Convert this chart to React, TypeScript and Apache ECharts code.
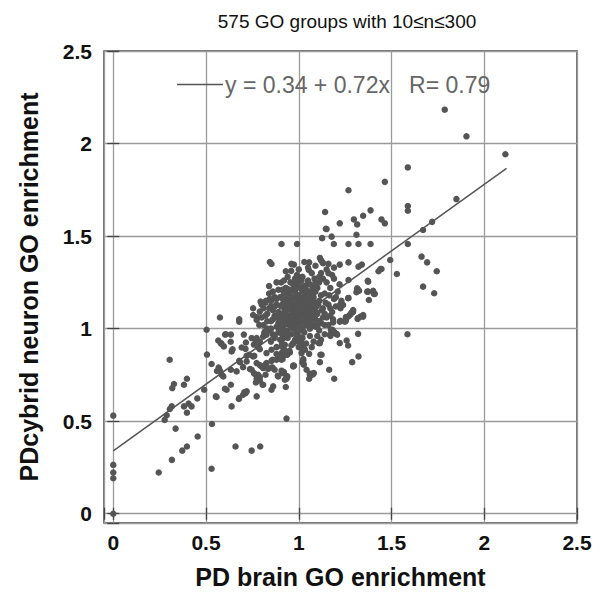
import React, { useEffect, useRef } from "react";
import * as echarts from "echarts";

const titleText = "575 GO groups with 10≤n≤300";
const xAxisName = "PD brain GO enrichment";
const yAxisName = "PDcybrid neuron GO enrichment";
const fitIntercept = 0.34;
const fitSlope = 0.72;
const fitR = 0.79;
const fitXRange = [0, 2.12];
const axisMin = -0.05;
const axisMax = 2.5;

// sparse GO groups [brain, cybrid]
const zeroPoints = [[0, 0.53], [0, 0.264], [0, 0.223], [0, 0.192], [0, 0.0]];

const lowPoints = [
  [0.245, 0.223], [0.304, 0.832], [0.316, 0.291], [0.318, 0.679], [0.327, 0.701], [0.381, 0.697],
  [0.397, 0.729], [0.315, 0.58], [0.305, 0.566], [0.288, 0.532], [0.277, 0.507], [0.336, 0.46],
  [0.381, 0.58], [0.406, 0.595], [0.422, 0.58], [0.397, 0.546], [0.453, 0.623], [0.455, 0.417],
  [0.372, 0.341], [0.397, 0.363], [0.49, 0.67], [0.503, 0.994], [0.505, 0.86], [0.53, 0.809],
  [0.553, 0.634], [0.532, 0.485], [0.53, 0.243], [0.559, 0.771], [0.566, 0.936], [0.575, 1.06],
];

const midPoints = [
  [0.679, 1.038], [0.579, 0.922], [0.603, 0.968], [0.634, 0.968], [0.633, 0.929], [0.704, 0.968],
  [0.715, 0.925], [0.692, 0.898], [0.713, 0.891], [0.638, 0.877], [0.679, 0.826], [0.634, 0.778],
  [0.665, 0.769], [0.568, 0.79], [0.575, 0.773], [0.593, 0.742], [0.634, 0.697], [0.611, 0.67],
  [0.638, 0.58], [0.679, 0.625], [0.7, 0.643], [0.713, 0.652], [0.773, 0.634], [0.719, 0.823],
  [0.733, 0.859], [0.76, 0.853], [0.746, 0.778], [0.758, 0.76], [0.773, 0.729], [0.79, 0.738],
  [0.805, 0.697], [0.821, 0.751], [0.79, 0.803], [0.758, 0.914], [0.769, 0.936], [0.783, 0.898],
  [0.746, 0.949], [0.659, 0.363], [0.746, 0.341], [0.792, 0.363], [0.934, 0.514], [0.826, 0.814],
  [0.859, 0.79], [0.87, 0.778], [0.859, 0.832], [0.88, 0.832], [0.907, 0.832], [0.92, 0.859],
  [0.887, 0.746], [0.913, 0.76], [0.934, 0.729], [0.93, 0.685], [0.97, 0.796], [1.024, 0.828],
  [1.027, 0.805], [1.056, 0.729], [1.074, 0.751], [1.06, 0.756], [1.056, 0.864], [1.108, 0.922],
  [0.826, 0.868], [0.853, 0.886], [0.814, 0.976], [0.754, 1.074], [0.773, 1.047], [0.787, 1.02],
  [0.607, 0.97], [0.584, 0.918], [0.596, 0.904], [0.643, 0.889], [0.773, 0.949], [0.79, 0.93],
  [0.781, 0.904], [0.79, 0.889], [0.817, 0.984], [0.808, 0.957], [0.826, 0.967], [0.754, 0.85],
  [0.719, 0.853], [0.773, 0.814], [0.8, 0.796], [0.683, 0.819], [0.7, 0.792], [0.584, 0.751],
  [0.737, 0.782], [0.763, 0.755], [0.823, 0.809], [0.853, 0.826], [0.88, 0.863], [0.889, 0.85],
  [0.907, 0.868], [0.913, 0.836], [0.938, 0.859], [0.952, 0.871], [0.808, 0.787], [0.835, 0.782],
  [0.853, 0.79], [0.781, 0.751], [0.79, 0.72], [0.769, 0.709], [0.808, 0.697], [0.889, 0.742],
  [0.925, 0.724], [0.938, 0.742], [0.907, 0.773], [0.97, 0.801], [0.853, 0.67], [0.862, 0.688],
  [0.602, 0.675], [0.557, 0.631], [0.677, 0.62], [0.706, 0.656], [0.719, 0.661], [1.015, 0.922],
  [1.024, 0.886], [1.024, 0.814], [1.042, 0.778],
];

const rightPoints = [
  [1.347, 1.065], [1.32, 1.057], [1.275, 1.074], [1.293, 1.092], [1.221, 1.038], [1.248, 1.038],
  [1.185, 1.033], [1.182, 0.994], [1.194, 0.976], [1.171, 0.961], [1.207, 0.967], [1.32, 0.972],
  [1.221, 0.922], [1.258, 0.936], [1.266, 0.909], [1.114, 0.922], [1.123, 0.859], [1.114, 0.819],
  [1.288, 0.819], [1.322, 0.85], [1.024, 0.836], [1.015, 0.868], [1.164, 0.778], [1.081, 0.76],
  [1.06, 0.751], [1.191, 0.729], [1.006, 0.93], [1.586, 0.97], [1.67, 1.227], [1.73, 1.191],
  [1.374, 1.254], [1.369, 1.2], [1.41, 1.188], [1.378, 1.155], [1.322, 1.209], [1.311, 1.197],
  [1.266, 1.164], [1.23, 1.137], [1.239, 1.128], [1.29, 1.089], [1.279, 1.078], [1.266, 1.065],
  [1.317, 1.053], [1.254, 1.042], [1.225, 1.042], [1.173, 0.994], [1.189, 0.984], [1.168, 0.967],
  [1.204, 0.972], [1.117, 0.859], [1.078, 0.756], [1.069, 0.756], [1.02, 0.819], [0.974, 0.8],
  [0.92, 0.765], [0.934, 0.742], [0.934, 0.859], [0.943, 0.871], [0.907, 0.904], [0.925, 0.913],
  [0.916, 0.949], [0.925, 0.958], [0.97, 0.922], [0.997, 0.93], [1.006, 0.954], [1.024, 0.895],
  [1.033, 0.886], [1.315, 1.218], [1.374, 1.2], [1.401, 1.205], [1.405, 1.188], [1.225, 1.11],
  [1.293, 1.101], [1.284, 1.087], [1.347, 1.074], [1.333, 1.065], [1.254, 1.062],
];

const upperPoints = [
  [1.787, 2.183], [1.904, 2.039], [2.114, 1.942], [1.464, 1.793], [1.588, 1.871], [1.588, 1.662],
  [1.588, 1.637], [1.85, 1.7], [1.446, 1.59], [1.464, 1.569], [1.719, 1.577], [1.67, 1.533],
  [1.588, 1.457], [1.662, 1.389], [1.692, 1.358], [1.744, 1.31], [1.493, 1.371], [1.446, 1.322],
  [1.529, 1.295], [1.268, 1.748], [1.142, 1.63], [1.146, 1.54], [1.221, 1.569], [1.297, 1.59],
  [1.315, 1.563], [1.347, 1.61], [1.387, 1.639], [1.311, 1.507], [1.126, 1.489], [1.177, 1.497],
  [0.907, 1.457], [0.991, 1.457], [1.189, 1.457], [1.268, 1.457], [1.322, 1.457], [1.387, 1.457],
  [1.221, 1.346], [1.268, 1.358], [1.322, 1.335], [1.34, 1.346], [1.43, 1.31], [1.44, 1.322],
  [1.056, 1.358], [0.974, 1.346], [0.959, 1.312], [1.114, 1.382], [1.131, 1.353], [1.372, 1.259],
  [1.268, 1.263], [1.317, 1.213], [1.325, 1.205], [1.223, 1.13], [1.268, 1.166], [1.15, 1.538],
  [1.128, 1.358], [0.844, 1.36], [0.853, 1.349], [1.054, 1.317], [0.905, 1.249], [0.997, 1.272],
  [1.015, 1.278], [0.991, 1.252], [0.925, 1.213], [0.943, 1.213], [0.961, 1.209], [0.979, 1.213],
  [1.024, 1.227], [1.042, 1.236], [0.871, 1.164], [0.844, 1.161], [0.823, 1.15], [0.794, 1.146],
  [0.754, 1.11], [0.79, 1.092], [0.773, 1.062], [0.679, 1.051],
];

// dense core, estimated
const corePoints = [
  [0.81, 1.02], [0.83, 1.08], [0.84, 0.99], [0.85, 1.12], [0.86, 1.05], [0.87, 1.17], [0.88, 1.01],
  [0.89, 1.09], [0.82, 1.14], [0.84, 1.19], [0.86, 0.97], [0.88, 1.13], [0.89, 1.21], [0.83, 1.04],
  [0.85, 1.0], [0.87, 1.07], [0.8, 1.06], [0.82, 0.98], [0.86, 1.1], [0.88, 1.16], [0.84, 1.23],
  [0.89, 1.03], [0.81, 1.11], [0.85, 1.15], [0.87, 0.95], [0.83, 1.0], [0.86, 1.2], [0.88, 1.06],
  [0.89, 0.98], [0.84, 1.11], [0.82, 1.07], [0.87, 1.12], [0.85, 1.04], [0.8, 1.13], [0.88, 1.25],
  [0.9, 1.0], [0.91, 1.08], [0.92, 1.15], [0.93, 1.03], [0.94, 1.11], [0.95, 1.19], [0.96, 1.06],
  [0.97, 1.13], [0.98, 1.01], [0.99, 1.09], [0.9, 1.17], [0.91, 0.97], [0.92, 1.05], [0.93, 1.22],
  [0.94, 0.99], [0.95, 1.07], [0.96, 1.14], [0.97, 1.04], [0.98, 1.2], [0.99, 1.12], [0.905, 1.12],
  [0.915, 1.02], [0.925, 1.1], [0.935, 1.16], [0.945, 1.04], [0.955, 1.25], [0.965, 1.01],
  [0.975, 1.08], [0.985, 1.16], [0.995, 1.03], [0.9, 1.06], [0.92, 1.26], [0.93, 1.09], [0.94, 1.18],
  [0.96, 1.1], [0.97, 1.24], [0.98, 1.06], [0.99, 1.17], [0.91, 1.13], [0.95, 1.02], [0.92, 0.99],
  [0.94, 1.07], [0.96, 1.21], [0.98, 1.11], [0.99, 0.98], [0.93, 1.13], [0.97, 1.0], [0.95, 1.15],
  [0.91, 1.21], [0.96, 0.97], [0.94, 1.28], [0.98, 1.27], [0.92, 1.19], [0.97, 1.17], [0.99, 1.22],
  [0.9, 1.03], [0.935, 1.05], [0.955, 1.11], [0.975, 1.05], [0.985, 1.13], [0.945, 1.14],
  [0.965, 1.06], [0.925, 1.07], [0.915, 1.16], [0.995, 1.07],
  [1.0, 1.05], [1.01, 1.12], [1.02, 1.0], [1.03, 1.08], [1.04, 1.16], [1.05, 1.03], [1.06, 1.11],
  [1.07, 1.19], [1.08, 1.06], [1.09, 1.14], [1.0, 1.18], [1.01, 0.99], [1.02, 1.09], [1.03, 1.23],
  [1.04, 1.02], [1.05, 1.13], [1.06, 1.04], [1.07, 1.1], [1.08, 1.22], [1.09, 1.01], [1.005, 1.1],
  [1.015, 1.16], [1.025, 1.04], [1.035, 1.14], [1.045, 1.08], [1.055, 1.2], [1.065, 1.07],
  [1.075, 1.15], [1.085, 1.02], [1.095, 1.09], [1.0, 1.25], [1.01, 1.07], [1.02, 1.2], [1.03, 0.98],
  [1.04, 1.11], [1.05, 1.26], [1.06, 1.17], [1.07, 1.02], [1.08, 1.12], [1.09, 1.2], [1.01, 1.03],
  [1.02, 1.13], [1.03, 1.17], [1.04, 1.06], [1.05, 1.09], [1.06, 1.24], [1.07, 1.14], [1.08, 1.09],
  [1.09, 1.05], [1.0, 1.01], [1.02, 1.28], [1.04, 1.21], [1.06, 1.0], [1.08, 1.17], [1.01, 1.22],
  [1.03, 1.11], [1.05, 1.16], [1.07, 1.06], [1.09, 1.25], [1.005, 1.14], [1.025, 1.07],
  [1.045, 1.19], [1.065, 1.12], [1.085, 1.27], [1.035, 1.03], [1.055, 1.06], [1.075, 1.22],
  [1.015, 1.26], [1.095, 1.12],
  [1.1, 1.08], [1.11, 1.15], [1.12, 1.03], [1.13, 1.11], [1.14, 1.19], [1.15, 1.06], [1.16, 1.13],
  [1.17, 1.22], [1.18, 1.09], [1.19, 1.16], [1.1, 1.22], [1.11, 1.04], [1.12, 1.18], [1.13, 1.27],
  [1.14, 1.08], [1.15, 1.25], [1.16, 1.02], [1.17, 1.11], [1.18, 1.29], [1.2, 1.12], [1.105, 1.13],
  [1.125, 1.1], [1.145, 1.14], [1.165, 1.18], [1.185, 1.05], [1.21, 1.2], [1.12, 1.3], [1.15, 1.32],
  [1.1, 1.01], [1.13, 1.06], [1.22, 1.24], [1.19, 1.27], [1.16, 1.3], [1.11, 1.25], [1.14, 1.02],
  [1.17, 1.07], [1.2, 1.17], [1.23, 1.15],
  [0.85, 0.93], [0.88, 0.9], [0.9, 0.94], [0.92, 0.89], [0.94, 0.95], [0.96, 0.91], [0.98, 0.94],
  [1.0, 0.9], [1.02, 0.95], [1.04, 0.92], [1.06, 0.96], [1.08, 0.93], [1.1, 0.96], [1.12, 0.94],
  [0.87, 0.96], [0.91, 0.92], [0.95, 0.88], [0.99, 0.96], [1.03, 0.89], [1.07, 0.9], [1.11, 0.99],
  [1.14, 0.97], [0.93, 0.97], [0.97, 0.92], [1.01, 0.94],
  [0.93, 1.31], [0.96, 1.35], [1.0, 1.32], [1.03, 1.36], [1.07, 1.3], [1.09, 1.34], [1.12, 1.37],
  [1.16, 1.35], [1.19, 1.33], [0.99, 1.29], [1.05, 1.33], [1.11, 1.28],
];

const FONT = "'Liberation Sans', Arial, Helvetica, sans-serif";
const INK = "#555555";

export default function App() {
  const ref = useRef<HTMLDivElement>(null);
  useEffect(() => {
    if (!ref.current) return;
    const chart = echarts.init(ref.current, undefined, { renderer: "svg" });
    const allPoints = [...zeroPoints, ...lowPoints, ...midPoints, ...rightPoints, ...upperPoints, ...corePoints];
    const fitLine = fitXRange.map((x) => [x, fitIntercept + fitSlope * x]);
    const legendName = `y = ${fitIntercept} + ${fitSlope}x   R= ${fitR}`;
    const hideOffTicks = (v: number) =>
      Math.abs(v / 0.5 - Math.round(v / 0.5)) < 1e-6 ? String(v) : "";
    const baseAxis = {
      type: "value" as const,
      min: axisMin,
      max: axisMax,
      splitNumber: 5,
      axisLine: { show: false },
    };
    const tickStyle = { show: true, inside: true, length: 6, lineStyle: { color: "#444", width: 1.3 } };
    const labelStyle = { fontFamily: FONT, fontSize: 21, fontWeight: "bold" as const, color: "#111" };
    const nameStyle = { fontFamily: FONT, fontSize: 25, fontWeight: "bold" as const, color: "#111" };
    chart.setOption({
      animation: false,
      backgroundColor: "#ffffff",
      title: {
        text: titleText,
        left: 342,
        textAlign: "center",
        top: 7,
        textStyle: { fontFamily: FONT, fontSize: 19, fontWeight: "normal", color: "#111" },
      },
      legend: {
        left: 172,
        top: 68,
        itemWidth: 46,
        itemHeight: 1.5,
        itemGap: 0,
        data: [{ name: legendName, icon: "rect" }],
        textStyle: { fontFamily: FONT, fontSize: 23, color: "#666", padding: [0, 0, 0, -3] },
        selectedMode: false,
      },
      grid: {
        left: 104,
        right: 27,
        top: 51,
        bottom: 74,
        show: true,
        borderColor: "#444",
        borderWidth: 1.5,
      },
      xAxis: [
        {
          ...baseAxis,
          position: "bottom",
          name: xAxisName,
          nameLocation: "middle",
          nameGap: 41,
          nameTextStyle: nameStyle,
          axisTick: tickStyle,
          axisLabel: { formatter: hideOffTicks, margin: 9, ...labelStyle },
          splitLine: { show: true, lineStyle: { color: "#9a9a9a", width: 1.3 } },
        },
        {
          ...baseAxis,
          position: "top",
          axisTick: tickStyle,
          axisLabel: { show: false },
          splitLine: { show: false },
        },
      ],
      yAxis: [
        {
          ...baseAxis,
          position: "left",
          name: yAxisName,
          nameLocation: "middle",
          nameGap: 63,
          nameTextStyle: nameStyle,
          axisTick: tickStyle,
          axisLabel: { formatter: hideOffTicks, margin: 12, ...labelStyle },
          splitLine: { show: true, lineStyle: { color: "#9a9a9a", width: 1.3 } },
        },
        {
          ...baseAxis,
          position: "right",
          axisTick: tickStyle,
          axisLabel: { show: false },
          splitLine: { show: false },
        },
      ],
      series: [
        {
          type: "scatter",
          name: "GO groups",
          data: allPoints,
          symbol: "circle",
          symbolSize: 6.5,
          itemStyle: { color: INK, opacity: 1 },
          z: 3,
        },
        {
          type: "line",
          name: legendName,
          data: fitLine,
          symbol: "none",
          lineStyle: { color: INK, width: 1.5 },
          itemStyle: { color: INK },
          z: 4,
        },
      ],
    });
    return () => chart.dispose();
  }, []);
  return <div ref={ref} style={{ width: 604, height: 597, position: "absolute", left: 0, top: 0 }} />;
}
